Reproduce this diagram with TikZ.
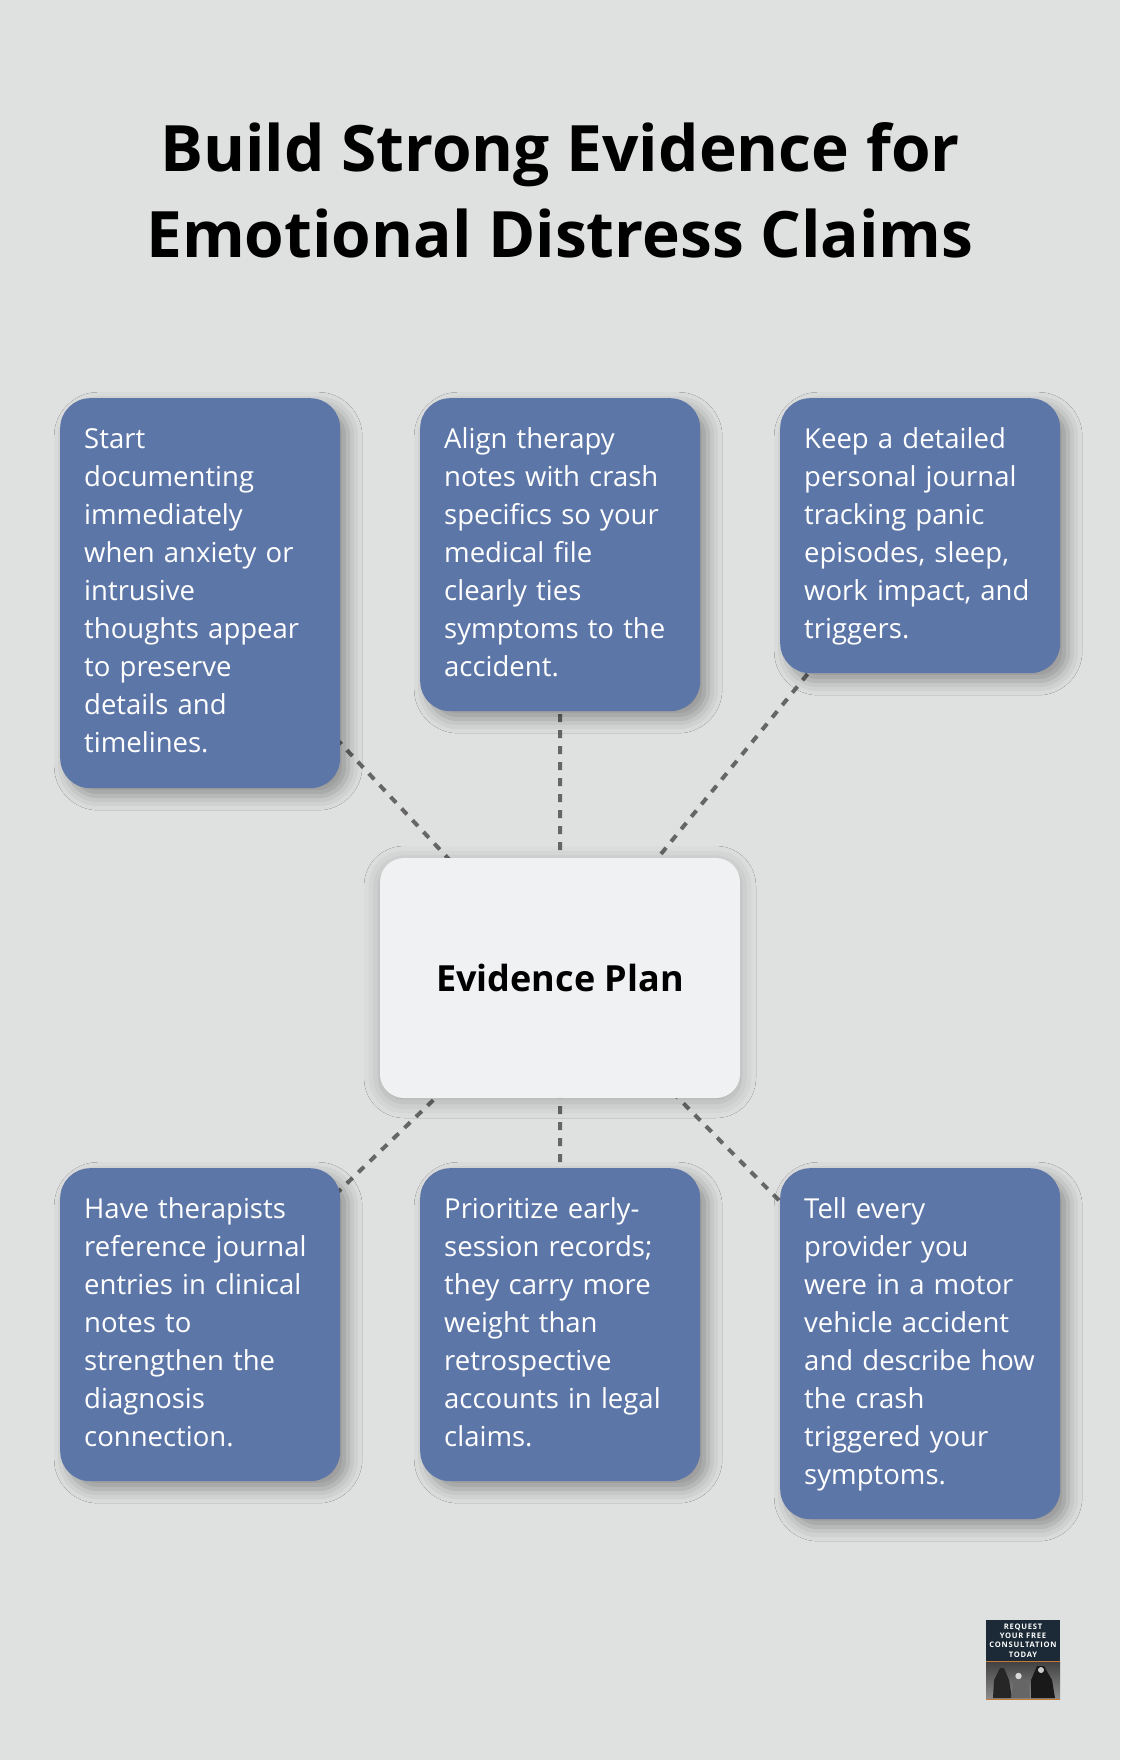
\documentclass[tikz,border=0pt]{standalone}
\usepackage{fontspec}
\setmainfont{Open Sans}
\newfontfamily\logofont[LetterSpace=10]{Open Sans}
\usetikzlibrary{backgrounds,shadows.blur}

\definecolor{pagebg}{HTML}{DFE1E0}
\definecolor{planblue}{HTML}{5D76A8}
\definecolor{planlight}{HTML}{EFF1F3}
\definecolor{linkgray}{HTML}{666666}
\definecolor{logonavy}{HTML}{1B2A36}
\definecolor{logoorange}{HTML}{C87A35}

\tikzset{
  planbox/.style={rounded corners=30pt, fill=planblue, text=white, anchor=north west,
    minimum width=280pt, text width=232pt, inner xsep=24pt, inner ysep=0pt, align=left,
    font=\fontsize{27.5}{38}\selectfont,
    execute at begin node=\strut, execute at end node=\strut,
    blur shadow={shadow xshift=8pt, shadow yshift=-8pt, shadow blur radius=14pt, shadow opacity=35}},
  hubbox/.style={rounded corners=24pt, fill=planlight, text=black, minimum width=360pt, minimum height=240pt,
    inner sep=0pt, font=\fontsize{36}{44}\bfseries\selectfont,
    blur shadow={shadow xshift=0pt, shadow yshift=-4pt, shadow blur radius=16pt, shadow opacity=25}},
  planlink/.style={draw=linkgray, line width=4pt, dash pattern=on 8pt off 8pt},
  logoline/.style={font=\logofont\fontsize{7.6}{9.2}\bfseries\selectfont, text=white, inner sep=0pt, align=center},
}

\begin{document}
\begin{tikzpicture}[x=1pt,y=-1pt]
\useasboundingbox (0,0) rectangle (1120,1760);

\node[font=\fontsize{64}{86}\bfseries\selectfont, align=center, inner sep=0pt] (title) at (560,190)
  {Build Strong Evidence for\\Emotional Distress Claims};

\node[planbox, minimum height=390pt] (doc) at (60,398) {Start\\documenting\\immediately\\when anxiety or\\intrusive\\thoughts appear\\to preserve\\details and\\timelines.};
\node[planbox, minimum height=313pt] (notes) at (420,398) {Align therapy\\notes with crash\\specifics so your\\medical file\\clearly ties\\symptoms to the\\accident.};
\node[planbox, minimum height=275pt] (journal) at (780,398) {Keep a detailed\\personal journal\\tracking panic\\episodes, sleep,\\work impact, and\\triggers.};

\node[hubbox] (plan) at (560,978) {Evidence Plan};

\node[planbox, minimum height=313pt] (therapist) at (60,1168) {Have therapists\\reference journal\\entries in clinical\\notes to\\strengthen the\\diagnosis\\connection.};
\node[planbox, minimum height=313pt] (early) at (420,1168) {Prioritize early-\\session records;\\they carry more\\weight than\\retrospective\\accounts in legal\\claims.};
\node[planbox, minimum height=351pt] (provider) at (780,1168) {Tell every\\provider you\\were in a motor\\vehicle accident\\and describe how\\the crash\\triggered your\\symptoms.};

% links run under the boxes
\begin{scope}[on background layer]
\fill[pagebg] (0,0) rectangle (1120,1760);
\foreach \to in {doc,notes,journal,therapist,early,provider}
  \draw[planlink] (plan.center) -- (\to.center);
\end{scope}

% logo
\fill[logonavy] (986,1620) rectangle (1060,1661);
\shade[top color=black!75, bottom color=black!45] (986,1661) rectangle (1060,1699);
\fill[logoorange] (986,1661) rectangle (1060,1662);
\fill[logoorange] (986,1698.5) rectangle (1060,1699);
\node[logoline] (logotext) at (1023,1640.5) {REQUEST\\YOUR FREE\\CONSULTATION\\TODAY};
\fill[black!85] (993,1698) -- (994,1680) -- (1000,1668) -- (1004,1668) -- (1009,1680) -- (1012,1698) -- cycle;
\fill[black!60] (1011,1698) -- (1013,1684) -- (1021,1678) -- (1029,1684) -- (1030,1698) -- cycle;
\fill[black!15] (1018.5,1676) circle (3.2pt);
\fill[black!90] (1031,1698) -- (1031,1680) -- (1037,1666) -- (1044,1666) -- (1052,1680) -- (1055,1698) -- cycle;
\fill[black!20] (1041,1670) circle (3pt);
\end{tikzpicture}
\end{document}
